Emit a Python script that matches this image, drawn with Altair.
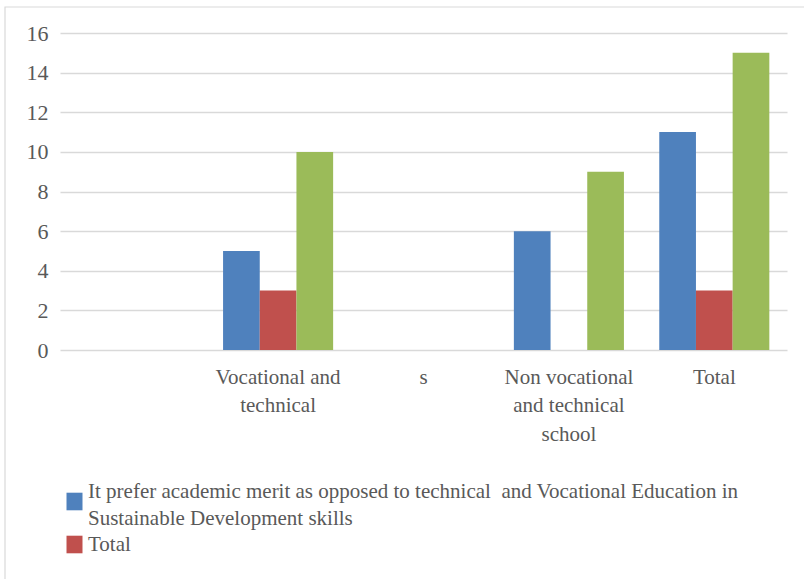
import altair as alt
import pandas as pd

# ---- data ----
categories = [" ", "Vocational and technical", "s", "Non vocational and technical school", "Total"]
category_lines = {
    "Vocational and technical": ["Vocational and", "technical"],
    "Non vocational and technical school": ["Non vocational", "and technical", "school"],
}
series = [
    "It prefer academic merit as opposed to technical  and Vocational Education in Sustainable Development skills",
    "Total",
    "Series3",
]
series_lines = {
    series[0]: ["It prefer academic merit as opposed to technical \u00a0and Vocational Education in",
                "Sustainable Development skills"],
}
colors = ["#4F81BD", "#C0504D", "#9BBB59"]

bar_categories = ["Vocational and technical", "Non vocational and technical school", "Total"]
values_s1 = [5, 6, 11]
values_s2 = [3, 0, 3]
values_s3 = [10, 9, 15]

rows = []
for cat, a, b, c in zip(bar_categories, values_s1, values_s2, values_s3):
    rows.append({"cat": cat, "series": series[0], "value": a})
    rows.append({"cat": cat, "series": series[1], "value": b})
    rows.append({"cat": cat, "series": series[2], "value": c})
df = pd.DataFrame(rows)


def label_expr(mapping):
    expr = "datum.label"
    for k, v in mapping.items():
        arr = "[" + ",".join("'" + s + "'" for s in v) + "]"
        expr = f"datum.label === '{k}' ? {arr} : ({expr})"
    return expr


FONT = "Liberation Serif"
GRAY = "#595959"

bars = alt.Chart(df).mark_bar(strokeWidth=0).encode(
    x=alt.X(
        "cat:N",
        sort=categories,
        scale=alt.Scale(domain=categories, paddingInner=0.243, paddingOuter=0.1215),
        axis=alt.Axis(
            title=None, domain=False, ticks=False, labelAngle=0,
            labelExpr=label_expr(category_lines), labelPadding=16,
            labelLineHeight=28.5, labelFontSize=21, labelBaseline="top",
        ),
    ),
    xOffset=alt.XOffset("series:N", sort=series, scale=alt.Scale(domain=series, paddingInner=0, paddingOuter=0)),
    y=alt.Y(
        "value:Q",
        scale=alt.Scale(domain=[0, 16], nice=False),
        axis=alt.Axis(
            title=None, values=list(range(0, 17, 2)), domain=False, ticks=False,
            labelPadding=12, labelFontSize=22, grid=True,
        ),
    ),
    color=alt.Color(
        "series:N",
        sort=series,
        scale=alt.Scale(domain=series, range=colors),
        legend=alt.Legend(
            title=None, values=series[:2], orient="none", direction="vertical",
            legendX=4, legendY=458, labelExpr=label_expr(series_lines),
            labelFontSize=21, labelLimit=1000,
            labelBaseline=alt.ExprRef(expr="datum.value === 'Total' ? 'middle' : 'bottom'"),
            symbolType="M-1,-1.1h2v2.2h-2z", symbolSize=256, symbolStrokeWidth=0,
            labelOffset=3, rowPadding=4, padding=0,
        ),
    ),
)

# chart frame (decoration)
frame = alt.Chart(pd.DataFrame({"a": [0]})).mark_rect(
    fill=None, stroke="#D9D9D9", strokeWidth=1.2
).encode(x=alt.value(-55), x2=alt.value(790), y=alt.value(-26), y2=alt.value(560))

chart = alt.layer(frame, bars).properties(
    width=727, height=317,
    autosize=alt.AutoSizeParams(type="none"),
    padding={"left": 60, "top": 33, "right": 17, "bottom": 229},
    background="white",
).configure(
    style={"guide-label": {"lineHeight": 27}}
).configure_view(stroke=None).configure_axis(
    labelFont=FONT, labelColor=GRAY, gridColor="#D9D9D9", gridWidth=1.5,
).configure_legend(labelFont=FONT, labelColor=GRAY)

chart.save("out.html", embed_options={"renderer": "svg", "actions": False})
